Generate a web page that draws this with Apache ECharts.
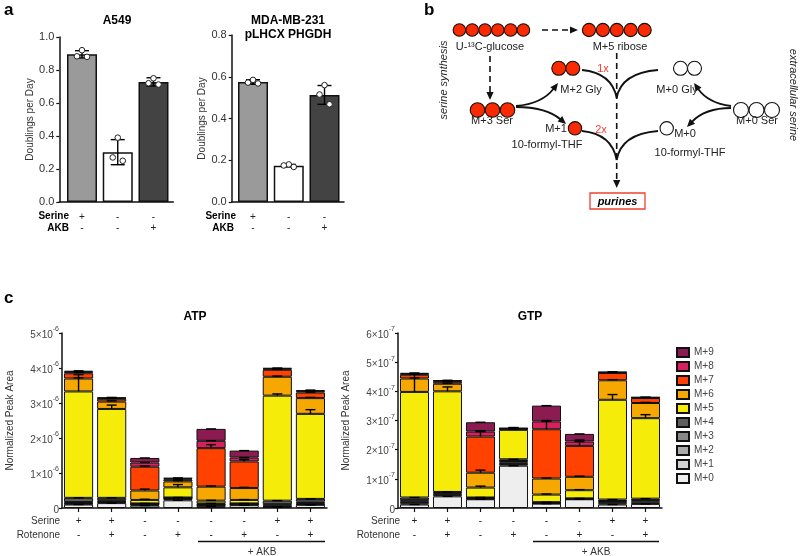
<!DOCTYPE html>
<html><head><meta charset="utf-8">
<script src="https://cdn.jsdelivr.net/npm/echarts@6/dist/echarts.min.js"></script>
<style>html,body{margin:0;padding:0;background:#fff}#c{width:800px;height:556px}</style>
</head><body><div id="c"></div>
<script>
// ================= DATA =================
// Panel a
const aSerine = ['+', '-', '-'];
const aAKB = ['-', '-', '+'];
const a549Mean = [0.895, 0.302, 0.728];
const a549SD = [0.022, 0.076, 0.025];
const a549Points = [[0.92, 0.883, 0.88], [0.39, 0.27, 0.25], [0.75, 0.72, 0.712]];
const mdaMean = [0.575, 0.174, 0.513];
const mdaSD = [0.011, 0.006, 0.045];
const mdaPoints = [[0.585, 0.572, 0.568], [0.18, 0.175, 0.168], [0.56, 0.515, 0.468]];
const aBarColors = ['#9a9a9a', '#ffffff', '#434343'];

// Panel c
const cSerine = ['+', '+', '-', '-', '-', '-', '+', '+'];
const cRotenone = ['-', '+', '-', '+', '-', '+', '-', '+'];
const isoNames = ['M+0', 'M+1', 'M+2', 'M+3', 'M+4', 'M+5', 'M+6', 'M+7', 'M+8', 'M+9'];
const isoColors = ['#eeeeee', '#d2d2d2', '#ababab', '#878787', '#5e5e5e', '#f6ec0a', '#f6a800', '#ff4200', '#d8205c', '#8b1b50'];

// ATP, values in units of 1e-6
const ATP_UNIT = 1e-6;
const atpM0 = [0.10, 0.14, 0.07, 0.22, 0.05, 0.08, 0.03, 0.09];
const atpM1 = [0.02, 0.03, 0.02, 0.04, 0.02, 0.02, 0.02, 0.02];
const atpM2 = [0.02, 0.02, 0.02, 0.02, 0.02, 0.01, 0.02, 0.03];
const atpM3 = [0.03, 0.03, 0.01, 0.01, 0.02, 0.01, 0.04, 0.04];
const atpM4 = [0.12, 0.07, 0.01, 0.01, 0.02, 0.01, 0.10, 0.08];
const atpM5 = [3.04, 2.54, 0.10, 0.29, 0.08, 0.10, 3.00, 2.43];
const atpM6 = [0.37, 0.21, 0.27, 0.17, 0.40, 0.34, 0.54, 0.45];
const atpM7 = [0.15, 0.08, 0.68, 0.05, 1.10, 0.76, 0.20, 0.16];
const atpM8 = [0.04, 0.02, 0.12, 0.03, 0.21, 0.11, 0.03, 0.04];
const atpM9 = [0.03, 0.02, 0.13, 0.02, 0.34, 0.20, 0.02, 0.03];
const atpSD5 = [0.48, 0.11, 0.02, 0.08, 0.01, 0.01, 0.05, 0.12];
const atpSD6 = [0.02, 0.02, 0.04, 0.02, 0.02, 0.02, 0.02, 0.02];
const atpSD7 = [0.02, 0.01, 0.02, 0.01, 0.10, 0.05, 0.01, 0.01];

// GTP, values in units of 1e-7
const GTP_UNIT = 1e-7;
const gtpM0 = [0.12, 0.40, 0.30, 1.45, 0.15, 0.30, 0.12, 0.14];
const gtpM1 = [0.04, 0.05, 0.02, 0.06, 0.02, 0.01, 0.04, 0.04];
const gtpM2 = [0.05, 0.04, 0.01, 0.06, 0.01, 0.01, 0.04, 0.05];
const gtpM3 = [0.06, 0.03, 0.01, 0.04, 0.01, 0.005, 0.04, 0.04];
const gtpM4 = [0.09, 0.03, 0.02, 0.06, 0.01, 0.005, 0.05, 0.05];
const gtpM5 = [3.62, 3.45, 0.34, 1.01, 0.26, 0.28, 3.42, 2.76];
const gtpM6 = [0.46, 0.26, 0.51, 0.03, 0.55, 0.46, 0.67, 0.52];
const gtpM7 = [0.13, 0.07, 1.24, 0.01, 1.69, 1.06, 0.25, 0.17];
const gtpM8 = [0.03, 0.03, 0.17, 0.01, 0.27, 0.15, 0.02, 0.02];
const gtpM9 = [0.03, 0.02, 0.32, 0.01, 0.54, 0.26, 0.02, 0.01];
const gtpSD5 = [0.62, 0.15, 0.05, 0.08, 0.02, 0.02, 0.18, 0.12];
const gtpSD6 = [0.02, 0.02, 0.09, 0.01, 0.02, 0.02, 0.02, 0.02];
const gtpSD7 = [0.02, 0.01, 0.20, 0.01, 0.30, 0.20, 0.01, 0.01];

// ================= BUILD =================
const FONT = 'Arial, "Liberation Sans", Helvetica, sans-serif';
const chart = echarts.init(document.getElementById('c'), null, {renderer: 'canvas'});

function errBoth(params, api) {
  const x = api.value(0), lo = api.value(1), hi = api.value(2);
  const a = api.coord([x, lo]), b = api.coord([x, hi]);
  const w = 7;
  const st = {stroke: '#000', lineWidth: 1.4};
  return {type: 'group', children: [
    {type: 'line', shape: {x1: a[0], y1: a[1], x2: b[0], y2: b[1]}, style: st},
    {type: 'line', shape: {x1: a[0] - w, y1: a[1], x2: a[0] + w, y2: a[1]}, style: st},
    {type: 'line', shape: {x1: b[0] - w, y1: b[1], x2: b[0] + w, y2: b[1]}, style: st}
  ]};
}
function errUp(params, api) {
  const x = api.value(0), lo = api.value(1), hi = api.value(2);
  const a = api.coord([x, lo]), b = api.coord([x, hi]);
  const w = 5;
  const st = {stroke: '#000', lineWidth: 1.4};
  return {type: 'group', children: [
    {type: 'line', shape: {x1: a[0], y1: a[1], x2: b[0], y2: b[1]}, style: st},
    {type: 'line', shape: {x1: b[0] - w, y1: b[1], x2: b[0] + w, y2: b[1]}, style: st}
  ]};
}
function pointsRender(params, api) {
  const x = api.value(0), v = api.value(1), j = api.value(2);
  const p = api.coord([x, v]);
  const off = [0, -5, 5][j];
  return {type: 'circle', shape: {cx: p[0] + off, cy: p[1], r: 2.8},
    style: {fill: '#fff', stroke: '#222', lineWidth: 1}};
}

function panelASeries(idx, means, sds, pts) {
  const errData = means.map((m, i) => [i, m - sds[i], m + sds[i]]);
  const ptData = [];
  pts.forEach((arr, i) => arr.forEach((v, j) => ptData.push([i, v, j])));
  return [
    {type: 'bar', xAxisIndex: idx, yAxisIndex: idx, barWidth: 30,
      data: means.map((m, i) => ({value: [i, m], itemStyle: {color: aBarColors[i]}})),
      itemStyle: {borderColor: '#111', borderWidth: 1.5}, silent: true},
    {type: 'custom', xAxisIndex: idx, yAxisIndex: idx, renderItem: errBoth, data: errData, z: 5, silent: true},
    {type: 'custom', xAxisIndex: idx, yAxisIndex: idx, renderItem: pointsRender, data: ptData, z: 6, silent: true}
  ];
}

function stackedSeries(vals, sds, unit, idx, stackName) {
  const out = [];
  vals.forEach((arr, k) => {
    out.push({type: 'bar', name: isoNames[k], stack: stackName, xAxisIndex: idx, yAxisIndex: idx,
      barWidth: '88%', data: arr.map(v => v * unit),
      itemStyle: {color: isoColors[k], borderColor: '#111', borderWidth: 1}, silent: true});
  });
  const errData = [];
  const n = vals[0].length;
  for (let i = 0; i < n; i++) {
    let cum = 0;
    for (let k = 0; k < vals.length; k++) {
      cum += vals[k][i];
      if (k >= 1 && k <= 3) continue; // caps of the thin grey segments are not distinguishable
      const sd = sds[k] ? sds[k][i] : 0;
      errData.push([i, cum * unit, (cum + sd) * unit]);
    }
  }
  out.push({type: 'custom', xAxisIndex: idx, yAxisIndex: idx, renderItem: errUp, data: errData, z: 5, silent: true});
  return out;
}

const atpVals = [atpM0, atpM1, atpM2, atpM3, atpM4, atpM5, atpM6, atpM7, atpM8, atpM9];
const atpSDs = [null, null, null, null, null, atpSD5, atpSD6, atpSD7, null, null];
const gtpVals = [gtpM0, gtpM1, gtpM2, gtpM3, gtpM4, gtpM5, gtpM6, gtpM7, gtpM8, gtpM9];
const gtpSDs = [null, null, null, null, null, gtpSD5, gtpSD6, gtpSD7, null, null];

const axLine = {show: true, onZero: false, lineStyle: {color: '#111', width: 1.5}};
const axTick = {show: true, length: 3, lineStyle: {color: '#111', width: 1.2}};

function aX(idx, mn, mx) {
  return {type: 'value', gridIndex: idx, min: mn, max: mx, splitLine: {show: false},
    axisLine: axLine, axisTick: {show: false},
    axisLabel: {customValues: [0, 1, 2], margin: 10, lineHeight: 11, fontSize: 10, color: '#222', fontFamily: FONT,
      formatter: v => aSerine[Math.round(v)] + '\n' + aAKB[Math.round(v)]}};
}
function aY(idx, max, gap) {
  return {type: 'value', gridIndex: idx, min: 0, max: max, interval: 0.2,
    axisLine: axLine, axisTick: axTick, splitLine: {show: false},
    axisLabel: {fontSize: 11, color: '#333', margin: 5, fontFamily: FONT, formatter: v => v.toFixed(1)},
    name: 'Doublings per Day', nameLocation: 'middle', nameGap: gap,
    nameTextStyle: {fontSize: 10, color: '#333', fontFamily: FONT}};
}
function cX(idx) {
  return {type: 'category', gridIndex: idx, data: [0, 1, 2, 3, 4, 5, 6, 7],
    axisLine: axLine, axisTick: {show: true, alignWithLabel: true, length: 4, lineStyle: {color: '#111', width: 1.2}},
    axisLabel: {interval: 0, margin: 6, lineHeight: 14, fontSize: 10, color: '#222', fontFamily: FONT,
      formatter: (v, i) => cSerine[i] + '\n' + cRotenone[i]}};
}
function cY(idx, unit, max, exp) {
  return {type: 'value', gridIndex: idx, min: 0, max: max * unit, interval: unit,
    axisLine: axLine, axisTick: axTick, splitLine: {show: false},
    axisLabel: {margin: 3, fontFamily: FONT,
      formatter: v => { const n = Math.round(v / unit); return n === 0 ? '{m|0}' : '{m|' + n + '×10}{e|' + exp + '}'; },
      rich: {m: {fontSize: 10, color: '#444', fontFamily: FONT, lineHeight: 14, verticalAlign: 'bottom'},
             e: {fontSize: 7, color: '#444', fontFamily: FONT, lineHeight: 8, verticalAlign: 'top'}}},
    name: 'Normalized Peak Area', nameLocation: 'middle', nameGap: 47,
    nameTextStyle: {fontSize: 10, color: '#333', fontFamily: FONT}};
}

// -------- Panel b diagram helpers --------
const RED = '#fa2a00';
const g = [];
function circ(cx, cy, r, fill) {
  g.push({type: 'circle', shape: {cx, cy, r}, style: {fill, stroke: '#111', lineWidth: 1.1}, silent: true});
}
function txt(x, y, text, opts) {
  opts = opts || {};
  g.push({type: 'text', x, y, rotation: opts.rot || 0, silent: true,
    style: {text, fill: opts.fill || '#222', font: (opts.style || '') + ' ' + (opts.size || 11) + 'px ' + FONT,
      align: opts.align || 'center', verticalAlign: 'middle'}});
}
function head(tx, ty, fx, fy) {
  const dx = tx - fx, dy = ty - fy, L = Math.hypot(dx, dy), ux = dx / L, uy = dy / L;
  const s = 8, w = 3.6, bx = tx - ux * s, by = ty - uy * s;
  g.push({type: 'polygon', shape: {points: [[tx, ty], [bx - uy * w, by + ux * w], [bx + uy * w, by - ux * w]]},
    style: {fill: '#111'}, silent: true});
  return [bx + ux * 1, by + uy * 1];
}
function dashArrow(x1, y1, x2, y2) {
  const b = head(x2, y2, x1, y1);
  g.push({type: 'line', shape: {x1, y1, x2: b[0], y2: b[1]}, style: {stroke: '#111', lineWidth: 1.6, lineDash: [6, 4]}, silent: true});
}
function curveArrow(x1, y1, cx, cy, x2, y2) {
  const b = head(x2, y2, cx, cy);
  g.push({type: 'bezierCurve', shape: {x1, y1, cpx1: cx, cpy1: cy, x2: b[0], y2: b[1]},
    style: {stroke: '#111', lineWidth: 1.8, fill: null}, silent: true});
}
function curve(x1, y1, cx, cy, x2, y2) {
  g.push({type: 'bezierCurve', shape: {x1, y1, cpx1: cx, cpy1: cy, x2, y2},
    style: {stroke: '#111', lineWidth: 1.8, fill: null}, silent: true});
}

// panel labels
txt(4, 10, 'a', {style: 'bold', size: 17, align: 'left', fill: '#000'});
txt(424, 10, 'b', {style: 'bold', size: 17, align: 'left', fill: '#000'});
txt(4, 298, 'c', {style: 'bold', size: 17, align: 'left', fill: '#000'});

// panel b
for (let i = 0; i < 6; i++) circ(459.4 + 12.8 * i, 30, 6.3, RED);
for (let i = 0; i < 5; i++) circ(589 + 13.9 * i, 30, 6.6, RED);
dashArrow(542, 30, 578, 30);
txt(490, 47, 'U-¹³C-glucose');
txt(620, 47, 'M+5 ribose');
dashArrow(490, 56, 490, 100);
for (let i = 0; i < 3; i++) circ(477.5 + 15 * i, 110, 7.3, RED);
txt(492, 121, 'M+3 Ser');
curveArrow(516, 106, 542, 104, 558, 83);
curveArrow(516, 107, 546, 107, 566, 124);
for (let i = 0; i < 2; i++) circ(558.8 + 14 * i, 68.3, 7, RED);
txt(581, 90, 'M+2 Gly');
txt(603, 69, '1x', {fill: '#ff3b2f'});
for (let i = 0; i < 2; i++) circ(680.5 + 14 * i, 68.3, 7, '#fff');
txt(677, 90, 'M+0 Gly');
curve(582, 70, 612, 73, 616.7, 98);
curve(658, 70, 621, 73, 616.7, 98);
dashArrow(616.7, 53, 616.7, 188);
circ(575, 128.3, 6.7, RED);
txt(556, 129, 'M+1');
txt(547, 145, '10-formyl-THF');
txt(601, 130, '2x', {fill: '#ff3b2f'});
circ(666.7, 128.3, 6.7, '#fff');
txt(685, 133.5, 'M+0');
txt(690, 153, '10-formyl-THF');
curve(582, 131, 612, 134, 616.7, 160);
curve(658, 131, 621, 134, 616.7, 160);
for (let i = 0; i < 3; i++) circ(741 + 15.5 * i, 110, 7.5, '#fff');
txt(757, 121, 'M+0 Ser');
curveArrow(731, 106, 708, 103, 694, 83);
curveArrow(731, 108, 705, 108, 687, 127);
g.push({type: 'rect', shape: {x: 590, y: 193, width: 55, height: 16}, style: {fill: '#fff', stroke: '#f0402e', lineWidth: 1.3}, silent: true});
txt(617.5, 201.5, 'purines', {style: 'italic bold', fill: '#000'});
txt(443.5, 80, 'serine synthesis', {style: 'italic', rot: Math.PI / 2});
txt(793.5, 95, 'extracellular serine', {style: 'italic', rot: -Math.PI / 2});

// panel a row labels and titles
txt(117, 21, 'A549', {style: 'bold', size: 12, fill: '#000'});
txt(288, 21, 'MDA-MB-231', {style: 'bold', size: 12, fill: '#000'});
txt(288, 35, 'pLHCX PHGDH', {style: 'bold', size: 12, fill: '#000'});
txt(69, 216.5, 'Serine', {style: 'bold', size: 10, align: 'right', fill: '#000'});
txt(69, 228, 'AKB', {style: 'bold', size: 10, align: 'right', fill: '#000'});
txt(236, 216.5, 'Serine', {style: 'bold', size: 10, align: 'right', fill: '#000'});
txt(234, 228, 'AKB', {style: 'bold', size: 10, align: 'right', fill: '#000'});

// panel c titles and row labels
txt(195, 317, 'ATP', {style: 'bold', size: 12, fill: '#000'});
txt(530, 317, 'GTP', {style: 'bold', size: 12, fill: '#000'});
txt(60, 521, 'Serine', {size: 10, align: 'right', fill: '#333'});
txt(60, 535, 'Rotenone', {size: 10, align: 'right', fill: '#333'});
txt(400, 521, 'Serine', {size: 10, align: 'right', fill: '#333'});
txt(400, 535, 'Rotenone', {size: 10, align: 'right', fill: '#333'});
g.push({type: 'line', shape: {x1: 198, y1: 541.5, x2: 325, y2: 541.5}, style: {stroke: '#111', lineWidth: 1.3}, silent: true});
g.push({type: 'line', shape: {x1: 533, y1: 541.5, x2: 659, y2: 541.5}, style: {stroke: '#111', lineWidth: 1.3}, silent: true});
txt(262, 552, '+ AKB', {size: 10, fill: '#333'});
txt(596, 552, '+ AKB', {size: 10, fill: '#333'});

const option = {
  animation: false,
  textStyle: {fontFamily: FONT},
  grid: [
    {left: 59.3, top: 37, width: 114, height: 165, outerBoundsMode: 'none'},
    {left: 231.7, top: 35, width: 112.3, height: 167, outerBoundsMode: 'none'},
    {left: 62, top: 333, width: 265, height: 175, outerBoundsMode: 'none'},
    {left: 398, top: 333, width: 264, height: 175, outerBoundsMode: 'none'}
  ],
  xAxis: [aX(0, -0.635, 2.554), aX(1, -0.596, 2.545), cX(2), cX(3)],
  yAxis: [aY(0, 1, 20), aY(1, 0.8, 23), cY(2, ATP_UNIT, 5, '-6'), cY(3, GTP_UNIT, 6, '-7')],
  legend: {orient: 'vertical', left: 671, top: 342, itemWidth: 12, itemHeight: 9, itemGap: 3,
    icon: 'rect', selectedMode: false,
    data: isoNames.slice().reverse(),
    textStyle: {fontSize: 10, color: '#444', lineHeight: 10, fontFamily: FONT}},
  series: [].concat(
    panelASeries(0, a549Mean, a549SD, a549Points),
    panelASeries(1, mdaMean, mdaSD, mdaPoints),
    stackedSeries(atpVals, atpSDs, ATP_UNIT, 2, 'atp'),
    stackedSeries(gtpVals, gtpSDs, GTP_UNIT, 3, 'gtp')
  ),
  graphic: g
};
chart.setOption(option);
</script></body></html>
